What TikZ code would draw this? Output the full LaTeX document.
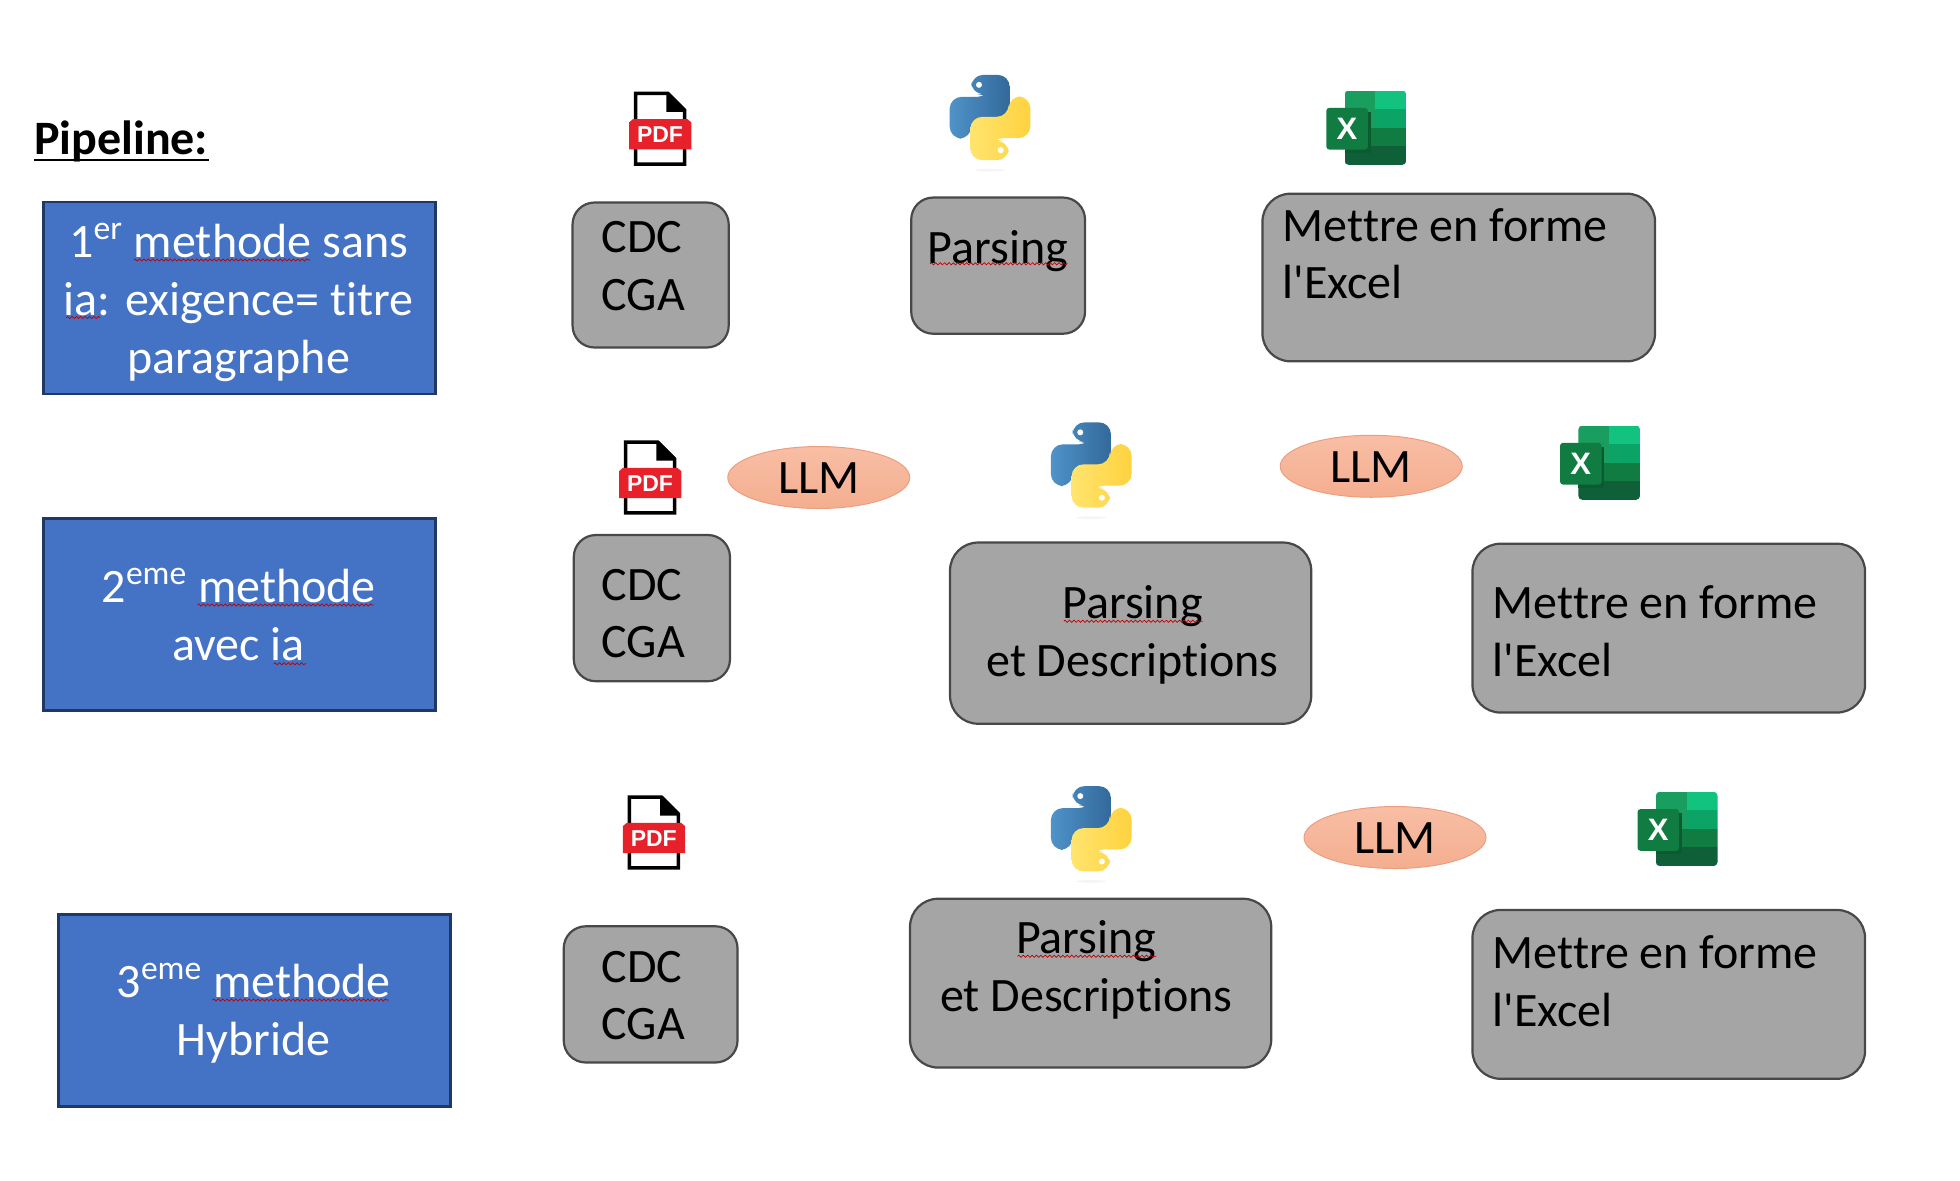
\documentclass[tikz,border=0pt]{standalone}
\usepackage{fontspec}
\setmainfont{Carlito}[Ligatures={NoCommon,TeXOff}]
\newfontfamily\iconfont{Liberation Sans}[BoldFont={Liberation Sans Bold}]
\usetikzlibrary{shapes.geometric,decorations.pathmorphing}
\definecolor{bluefill}{HTML}{4472C4}
\definecolor{blueline}{HTML}{1F3864}
\definecolor{greyfill}{HTML}{A5A5A5}
\definecolor{greyline}{HTML}{484848}
\definecolor{llmtop}{HTML}{F8BEA5}
\definecolor{llmbot}{HTML}{F4AE8F}
\definecolor{llmline}{HTML}{EE9E80}
\definecolor{pdfred}{HTML}{E8202A}
\definecolor{pyblueL}{HTML}{4F93C8}
\definecolor{pyblueR}{HTML}{33699B}
\definecolor{pyyelL}{HTML}{FFE46E}
\definecolor{pyyelR}{HTML}{FFD23F}
\definecolor{xlA}{HTML}{1A9E60}
\definecolor{xlB}{HTML}{12C37F}
\definecolor{xlM}{HTML}{0BA366}
\definecolor{xlC}{HTML}{107C41}
\definecolor{xlD}{HTML}{0F5F38}
\definecolor{xlS}{HTML}{0C5A30}
\tikzset{
  x=0.625pt,y=-0.625pt,
  bluebox/.style={draw=blueline,fill=bluefill,line width=1.3pt,rectangle,inner sep=0pt},
  greybox/.style={draw=greyline,fill=greyfill,line width=1.1pt,rectangle,rounded corners=11pt,inner sep=0pt},
  llm/.style={ellipse,draw=llmline,top color=llmtop,bottom color=llmbot,line width=0.5pt,minimum width=91pt,minimum height=31pt,inner sep=0pt,text=black,font=\fontsize{24}{28.8}\selectfont},
  txt/.style={inner sep=0pt,align=center,text=black,font=\fontsize{24}{28.8}\selectfont},
  txtl/.style={txt,align=left},
  wtxt/.style={txt,text=white},
  squig/.style={draw=red!75!black,line width=0.35pt,decorate,decoration={snake,amplitude=0.55pt,segment length=2.2pt}},
  pdficon/.pic={
    \begin{scope}[shift={(-181,-176)}]
      \fill[white] (105,67) -- (205,67) -- (258,120) -- (258,285) -- (105,285) -- cycle;
      \draw[black,line width=1.7pt,miter limit=2] (108,70) -- (205,70) -- (255,120) -- (255,282) -- (108,282) -- cycle;
      \fill[black] (200,67) -- (208,67) -- (258,117) -- (258,125) -- (200,125) -- cycle;
      \fill[pdfred] (88,157) -- (100,147) -- (263,147) -- (275,157) -- (275,238) -- (88,238) -- cycle;
      \node[inner sep=0pt,text=white,font=\iconfont\bfseries\fontsize{11.5}{12}\selectfont] at (181,194) {PDF};
    \end{scope}
  },
  pyicon/.pic={
    \begin{scope}[shift={(-181,-170)}]
      \fill[gray!8] (181,328) ellipse (45 and 4);
      \path[left color=pyblueL,right color=pyblueR,rounded corners=6pt]
        (125,100) -- (125,42) -- (240,42) -- (240,172) -- (125,172) -- (125,233) -- (60,233) -- (60,108) -- (180,108) -- (180,100) -- cycle;
      \fill[white] (148,72) circle (9);
      \path[left color=pyyelL,right color=pyyelR,rounded corners=6pt]
        (237,240) -- (237,298) -- (122,298) -- (122,168) -- (237,168) -- (237,107) -- (302,107) -- (302,232) -- (182,232) -- (182,240) -- cycle;
      \fill[white] (213,268) circle (9);
    \end{scope}
  },
  xlicon/.pic={
    \begin{scope}[shift={(-170,-156)}]
      \begin{scope}
        \clip[rounded corners=2pt] (105,45) rectangle (290,268);
        \fill[xlA] (105,45) rectangle (197,157);
        \fill[xlB] (197,45) rectangle (290,100);
        \fill[xlM] (197,100) rectangle (290,157);
        \fill[xlC] (105,157) rectangle (290,212);
        \fill[xlD] (105,212) rectangle (290,268);
      \end{scope}
      \fill[xlS] (105,110) rectangle (183,232);
      \fill[xlC,rounded corners=1.5pt] (50,97) rectangle (175,222);
      \node[inner sep=0pt,text=white,font=\iconfont\bfseries\fontsize{15.5}{16}\selectfont] at (112,160) {X};
    \end{scope}
  }
}
\newcommand{\llmtext}{\smash{\raisebox{-8.2pt}{LLM}}}
\begin{document}
\begin{tikzpicture}
\useasboundingbox (0,0) rectangle (1568,944);
\fill[white] (0,0) rectangle (1568,944);

\node[txt,anchor=west,font=\bfseries\fontsize{24}{28.8}\selectfont] (title) at (27,113) {Pipeline:};
\draw[black,line width=1.1pt] ([yshift=-3pt]title.base west) -- ([yshift=-3pt]title.base east);

% blue boxes
\node[bluebox,minimum width=196pt,minimum height=96pt] (m1) at (191.5,238.5) {};
\node[bluebox,minimum width=196pt,minimum height=96pt] (m2) at (191.5,491.5) {};
\node[bluebox,minimum width=196pt,minimum height=96pt] (m3) at (203.5,808.5) {};
\node[wtxt] (m1t) at (191,242) {1\textsuperscript{er} methode sans\\ia: exigence= titre\\paragraphe};
\node[wtxt] (m2t) at (191,491.5) {2\textsuperscript{eme} methode\\avec ia};
\node[wtxt] (m3t) at (203,810.5) {3\textsuperscript{eme} methode\\Hybride};

% row 1
\node[greybox,minimum width=78.1pt,minimum height=72.5pt] (c1) at (520.5,220) {};
\node[greybox,minimum width=86.9pt,minimum height=68.1pt] (p1) at (798.5,212.5) {};
\node[greybox,minimum width=196.3pt,minimum height=83.8pt,rounded corners=14pt] (e1) at (1167,222) {};
\node[txtl,anchor=west] (c1t) at (481,213) {CDC\\CGA};
\node[txt] (p1t) at (798.5,201) {Parsing};
\node[txtl,anchor=west] (e1t) at (1026,203) {Mettre en forme\\l'Excel};

% row 2
\node[greybox,minimum width=78.1pt,minimum height=73.1pt] (c2) at (521.5,486.5) {};
\node[greybox,minimum width=180.6pt,minimum height=90.6pt,rounded corners=14pt] (p2) at (904.5,506.5) {};
\node[greybox,minimum width=196.3pt,minimum height=84.4pt,rounded corners=14pt] (e2) at (1335,502.5) {};
\node[txtl,anchor=west] (c2t) at (481,491) {CDC\\CGA};
\node[txt] (p2t) at (906,508) {Parsing\\et Descriptions};
\node[txtl,anchor=west] (e2t) at (1194,505) {Mettre en forme\\l'Excel};

% row 3
\node[greybox,minimum width=86.9pt,minimum height=68.1pt] (c3) at (520.5,795.5) {};
\node[greybox,minimum width=180.6pt,minimum height=84.4pt,rounded corners=14pt] (p3) at (872.5,786.5) {};
\node[greybox,minimum width=196.3pt,minimum height=84.4pt,rounded corners=14pt] (e3) at (1335,795.5) {};
\node[txtl,anchor=west] (c3t) at (481,796.5) {CDC\\CGA};
\node[txt] (p3t) at (869,776) {Parsing\\et Descriptions};
\node[txtl,anchor=west] (e3t) at (1194,785) {Mettre en forme\\l'Excel};

% LLM
\node[llm] (l1) at (655,382) {\llmtext};
\node[llm] (l2) at (1097,373) {\llmtext};
\node[llm] (l3) at (1116,670) {\llmtext};

% spell-check marks
\draw[squig] (107,208) -- (248,208);
\draw[squig] (53,254) -- (80,254);
\draw[squig] (744,211) -- (854,211);
\draw[squig] (158,484) -- (299,484);
\draw[squig] (219,531) -- (245,531);
\draw[squig] (851,497) -- (962,497);
\draw[squig] (170,800) -- (311,800);
\draw[squig] (814,765) -- (925,765);

% icons
\pic[scale=.2667] (pdfa) at (528,103) {pdficon};
\pic[scale=.2667] (pdfb) at (520,382) {pdficon};
\pic[scale=.2667] (pdfc) at (523,666) {pdficon};
\pic[scale=.2667] (pya) at (792,94) {pyicon};
\pic[scale=.2667] (pyb) at (873,372) {pyicon};
\pic[scale=.2667] (pyc) at (873,663) {pyicon};
\pic[scale=.2667] (xla) at (1093,102) {xlicon};
\pic[scale=.2667] (xlb) at (1280,370) {xlicon};
\pic[scale=.2667] (xlc) at (1342,663) {xlicon};
\end{tikzpicture}
\end{document}
